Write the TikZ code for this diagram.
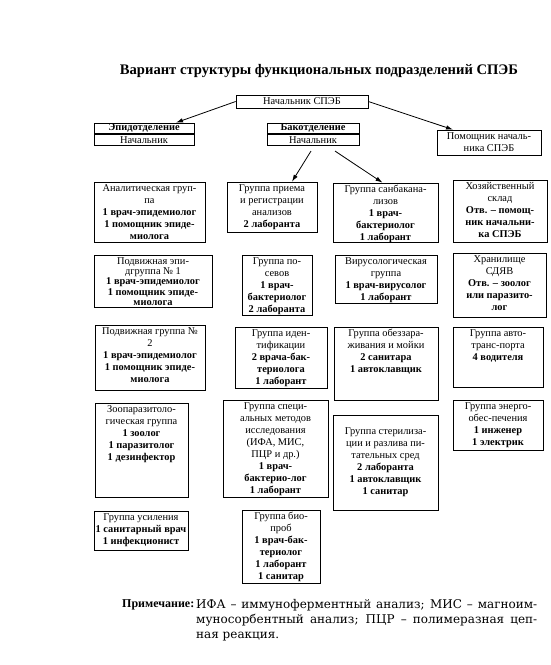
\documentclass[tikz,border=0pt]{standalone}
\usepackage{fontspec}
\setmainfont{Liberation Serif}
\newfontfamily\notefont{DejaVu Serif}
\usetikzlibrary{calc}
\usetikzlibrary{arrows.meta}
\usetikzlibrary{positioning}
\tikzset{>={Latex[length=7pt,width=4.5pt]}}
\tikzset{
	grp/.style={draw,line width=0.7pt,inner sep=0pt},
	grptext/.style={anchor=north,align=center,inner sep=0pt,yshift=-2.5pt},
	link/.style={->,line width=0.8pt},
}

\begin{document}
\begin{tikzpicture}[x=1pt,y=-1pt,font=\fontsize{10.4}{12}\selectfont]
	\useasboundingbox (0,0) rectangle (551,665);
	\node[font=\fontsize{14.6}{16}\selectfont\bfseries] (title) at (319,71) {Вариант структуры функциональных подразделений СПЭБ};

	% руководство
	\node[grp,minimum width=132pt,minimum height=13pt] (nach) at (302,101.5) {Начальник СПЭБ};
	\node[grp,minimum width=100pt,minimum height=10.5pt] (epid) at (144,128.25) {\textbf{Эпидотделение}};
	\node[grp,minimum width=100pt,minimum height=11.5pt,below=0pt of epid] (epidn) {Начальник};
	\node[grp,minimum width=92pt,minimum height=10.5pt] (bak) at (313,128.25) {\textbf{Бакотделение}};
	\node[grp,minimum width=92pt,minimum height=11.5pt,below=0pt of bak] (bakn) {Начальник};
	\node[grp,minimum width=104pt,minimum height=25pt,align=center] (pom) at (489,142.5) {Помощник началь-\\ника СПЭБ};

	% первый ряд
	\node[grp,minimum width=111pt,minimum height=60pt] (anal) at (149.5,212) {};
	\node[grptext] (anal-t) at (anal.north) {Аналитическая груп-\\па\\\textbf{1 врач-эпидемиолог}\\\textbf{1 помощник эпиде-}\\\textbf{миолога}};
	\node[grp,minimum width=90pt,minimum height=50pt] (priem) at (272,207) {};
	\node[grptext] (priem-t) at (priem.north) {Группа приема\\и регистрации\\анализов\\\textbf{2 лаборанта}};
	\node[grp,minimum width=105pt,minimum height=59pt] (sanbak) at (385.5,212.5) {};
	\node[grptext] (sanbak-t) at (sanbak.north) {Группа санбакана-\\лизов\\\textbf{1 врач-}\\\textbf{бактериолог}\\\textbf{1 лаборант}};
	\node[grp,minimum width=94pt,minimum height=62pt] (hoz) at (500,211) {};
	\node[grptext] (hoz-t) at (hoz.north) {Хозяйственный\\склад\\\textbf{Отв. – помощ-}\\\textbf{ник начальни-}\\\textbf{ка СПЭБ}};

	\draw[link] (nach.west) -- ([xshift=32pt]epid.north);
	\draw[link] (nach.east) -- ([xshift=-36pt]pom.north);
	\draw[link] ([xshift=-2pt,yshift=-5pt]bakn.south) -- ([xshift=20pt]priem.north);
	\draw[link] ([xshift=22pt,yshift=-5pt]bakn.south) -- ([xshift=-3pt]sanbak.north);

	% второй ряд
	\node[grp,minimum width=118pt,minimum height=52pt] (podv1) at (153,281) {};
	\node[grptext,font=\fontsize{10.4}{10.4}\selectfont] (podv1-t) at (podv1.north) {Подвижная эпи-\\дгруппа № 1\\\textbf{1 врач-эпидемиолог}\\\textbf{1 помощник эпиде-}\\\textbf{миолога}};
	\node[grp,minimum width=70pt,minimum height=60pt] (posev) at (277,285) {};
	\node[grptext] (posev-t) at (posev.north) {Группа по-\\севов\\\textbf{1 врач-}\\\textbf{бактериолог}\\\textbf{2 лаборанта}};
	\node[grp,minimum width=102pt,minimum height=48pt] (virus) at (386,279) {};
	\node[grptext] (virus-t) at (virus.north) {Вирусологическая\\группа\\\textbf{1 врач-вирусолог}\\\textbf{1 лаборант}};
	\node[grp,minimum width=93pt,minimum height=64pt] (hran) at (499.5,285) {};
	\node[grptext] (hran-t) at (hran.north) {Хранилище\\СДЯВ\\\textbf{Отв. – зоолог}\\\textbf{или паразито-}\\\textbf{лог}};

	% третий ряд
	\node[grp,minimum width=110pt,minimum height=65pt] (podv2) at (150,357.5) {};
	\node[grptext] (podv2-t) at (podv2.north) {Подвижная группа №\\2\\\textbf{1 врач-эпидемиолог}\\\textbf{1 помощник эпиде-}\\\textbf{миолога}};
	\node[grp,minimum width=92pt,minimum height=61pt] (ident) at (281,357.5) {};
	\node[grptext] (ident-t) at (ident.north) {Группа иден-\\тификации\\\textbf{2 врача-бак-}\\\textbf{териолога}\\\textbf{1 лаборант}};
	\node[grp,minimum width=104pt,minimum height=73pt] (obezz) at (386,363.5) {};
	\node[grptext] (obezz-t) at (obezz.north) {Группа обеззара-\\живания и мойки\\\textbf{2 санитара}\\\textbf{1 автоклавщик}};
	\node[grp,minimum width=90pt,minimum height=60pt] (avto) at (498,357) {};
	\node[grptext] (avto-t) at (avto.north) {Группа авто-\\транс-порта\\\textbf{4 водителя}};

	% четвертый ряд
	\node[grp,minimum width=93pt,minimum height=94pt] (zoo) at (141.5,450) {};
	\node[grptext] (zoo-t) at (zoo.north) {Зоопаразитоло-\\гическая группа\\\textbf{1 зоолог}\\\textbf{1 паразитолог}\\\textbf{1 дезинфектор}};
	\node[grp,minimum width=105pt,minimum height=97pt] (spec) at (275.5,448.5) {};
	\node[grptext] (spec-t) at (spec.north) {Группа специ-\\альных методов\\исследования\\(ИФА, МИС,\\ПЦР и др.)\\\textbf{1 врач-}\\\textbf{бактерио-лог}\\\textbf{1 лаборант}};
	\node[grp,minimum width=105pt,minimum height=95pt] (steril) at (385.5,462.5) {};
	\node[align=center,inner sep=0pt] (steril-t) at (steril.center) {Группа стерилиза-\\ции и разлива пи-\\тательных сред\\\textbf{2 лаборанта}\\\textbf{1 автоклавщик}\\\textbf{1 санитар}};
	\node[grp,minimum width=90pt,minimum height=50pt] (energo) at (498,425) {};
	\node[grptext] (energo-t) at (energo.north) {Группа энерго-\\обес-печения\\\textbf{1 инженер}\\\textbf{1 электрик}};

	% пятый ряд
	\node[grp,minimum width=94pt,minimum height=39pt] (usil) at (141,530.5) {};
	\node[grptext] (usil-t) at (usil.north) {Группа усиления\\\textbf{1 санитарный врач}\\\textbf{1 инфекционист}};
	\node[grp,minimum width=78pt,minimum height=73pt] (bio) at (281,546.5) {};
	\node[grptext] (bio-t) at (bio.north) {Группа био-\\проб\\\textbf{1 врач-бак-}\\\textbf{териолог}\\\textbf{1 лаборант}\\\textbf{1 санитар}};

	% примечание
	\node[anchor=north west,inner sep=0pt,font=\fontsize{12}{16}\selectfont\bfseries] (prim) at (122,599) {Примечание:};
	\node[anchor=north west,inner sep=0pt,text width=341pt,align=justify,font=\notefont\fontsize{12}{15}\selectfont] (prim-t) at (196,599) {ИФА – иммуноферментный анализ; МИС – магноим-\linebreak муносорбентный анализ; ПЦР – полимеразная цеп-\linebreak ная реакция.};
\end{tikzpicture}
\end{document}
